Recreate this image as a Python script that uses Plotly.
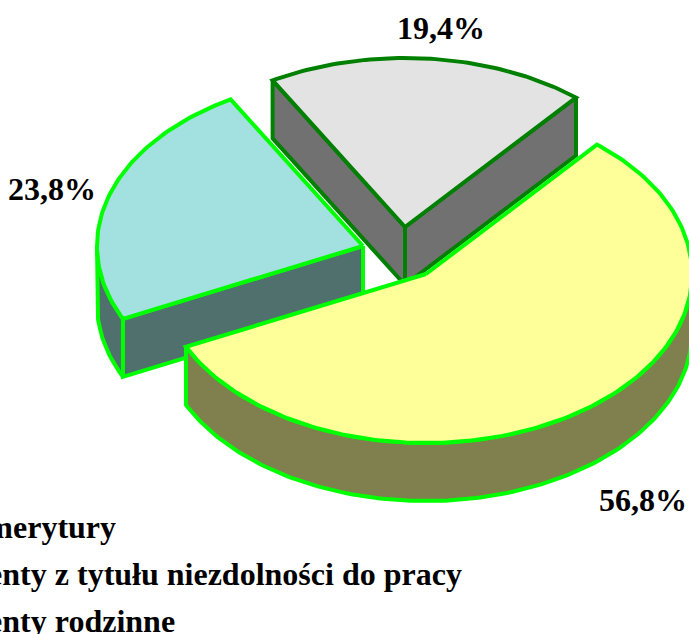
import math
import plotly.graph_objects as go

shares = [56.8, 23.8, 19.4]
share_labels = ["56,8%", "23,8%", "19,4%"]
legend_labels = ["Emerytury", "Renty z tytułu niezdolności do pracy", "Renty rodzinne"]

W, H = 689, 634
START = 40
RX, RY, DEPTH = 266, 169, 58
APEX = [(426, 274), (363, 246), (405, 227)]
TOP = ["#FFFF99", "#A3E0E0", "#E3E3E3"]
SIDE = ["#80804F", "#50706E", "#717171"]
EDGE = ["#00FF00", "#00FF00", "#008000"]
LABEL_POS = [(643, 500), (52, 189), (441, 28)]
LEGEND_Y = [527, 574, 621]
LEGEND_X = -37
FONT = "Liberation Serif"
FS = 32
LW = 4

# which radial walls show: (start wall, end wall) for each slice
WALLS = [(False, False), (True, False), (True, True)]


def pt(ax, ay, deg, drop=0):
    r = math.radians(deg)
    return ax + RX * math.sin(r), ay - RY * math.cos(r) + drop


def arc(ax, ay, a0, a1, drop=0):
    n = max(2, int(abs(a1 - a0)) + 1)
    return [pt(ax, ay, a0 + (a1 - a0) * i / (n - 1), drop) for i in range(n)]


def poly(fig, pts, fill, edge):
    xs = [p[0] for p in pts] + [pts[0][0]]
    ys = [p[1] for p in pts] + [pts[0][1]]
    fig.add_trace(go.Scatter(x=xs, y=ys, mode="lines", fill="toself", fillcolor=fill,
                             line=dict(color=edge, width=LW), hoverinfo="skip", showlegend=False))


spans = []
a = START
for s in shares:
    spans.append((a, a + s * 3.6))
    a += s * 3.6

fig = go.Figure()
for i in [2, 1, 0]:
    a0, a1 = spans[i]
    ax, ay = APEX[i]
    for ang, show in zip((a0, a1), WALLS[i]):
        if show:
            e = pt(ax, ay, ang)
            poly(fig, [(ax, ay), e, (e[0], e[1] + DEPTH), (ax, ay + DEPTH)], SIDE[i], EDGE[i])
    lo, hi = max(a0, 90), min(a1, 270)
    if lo < hi:
        poly(fig, arc(ax, ay, lo, hi) + arc(ax, ay, hi, lo, DEPTH), SIDE[i], EDGE[i])
    poly(fig, [(ax, ay)] + arc(ax, ay, a0, a1), TOP[i], EDGE[i])

for (x, y), t in zip(LABEL_POS, share_labels):
    fig.add_annotation(x=x, y=y, text=f"<b>{t}</b>", showarrow=False, xanchor="center", yanchor="middle",
                       font=dict(family=FONT, size=FS, color="black"))
for y, t in zip(LEGEND_Y, legend_labels):
    fig.add_annotation(xref="paper", yref="paper", x=LEGEND_X / W, y=1 - y / H, text=f"<b>{t}</b>",
                       showarrow=False, xanchor="left", yanchor="middle",
                       font=dict(family=FONT, size=FS, color="black"))

fig.update_layout(width=W, height=H, margin=dict(l=0, r=0, t=0, b=0), plot_bgcolor="white",
                  paper_bgcolor="white", showlegend=False,
                  xaxis=dict(range=[0, W], visible=False),
                  yaxis=dict(range=[H, 0], visible=False))
fig.write_html("out.html", config={"displayModeBar": False},
               post_script="document.body.style.margin='0';document.body.style.overflow='hidden';")
